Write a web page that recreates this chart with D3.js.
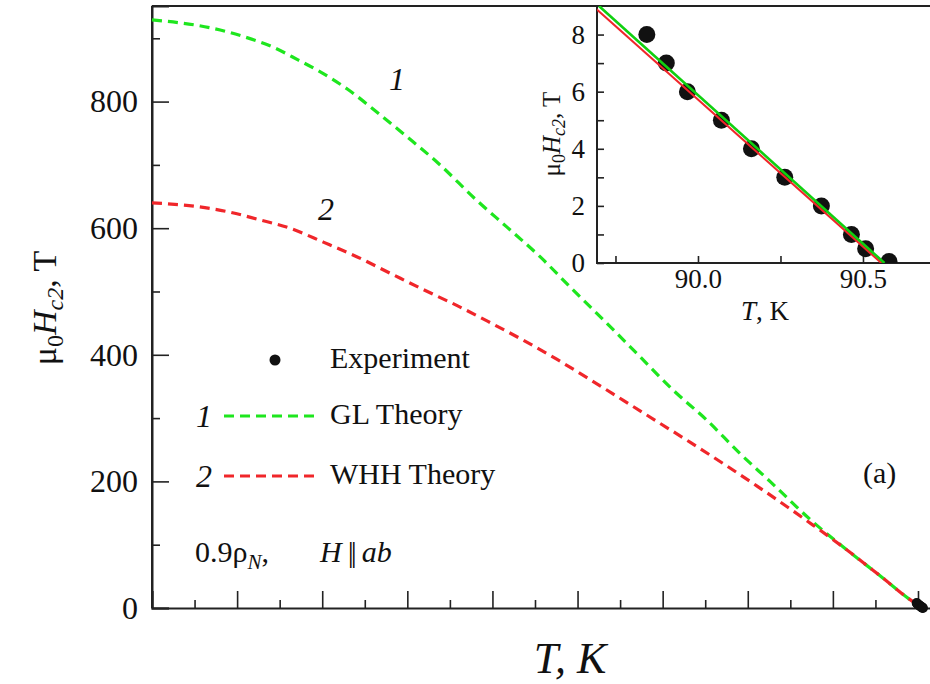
<!DOCTYPE html>
<html><head><meta charset="utf-8">
<script src="https://cdn.jsdelivr.net/npm/d3@7"></script>
<style>
html,body{margin:0;padding:0;background:#fff;}
svg{display:block;}
svg text, svg tspan{font-family:"Liberation Serif","Times New Roman",serif !important;}
</style></head>
<body>
<svg id="chart" width="930" height="684"></svg>
<script>
// ---------- data ----------
// Main panel: GL theory curve (1)
const glT = [0, 5.05, 8.93, 10.93, 14.06, 17.15, 19.5, 23.03, 26.55, 29.73, 33.6, 38.15, 41.68, 45.59, 49.5, 53.43, 57.34, 61.25, 65.17, 69.09, 72.61, 77.66, 81.62, 85.54, 89.41, 90.6];
const glH = [929, 921, 910, 902, 887, 866, 849, 819, 782, 747, 703, 644, 602, 555, 502, 450, 397, 344, 297, 244, 200, 136, 92, 51, 10, 0];
// Main panel: WHH theory curve (2)
const whhT = [0, 5.4, 8.93, 12.45, 16.21, 20.13, 24.05, 27.96, 31.88, 35.8, 39.71, 43.63, 47.55, 51.46, 55.38, 59.3, 63.21, 67.13, 71.05, 77.66, 81.62, 85.54, 89.41, 90.6];
const whhH = [640, 634, 626, 614, 600, 578, 555, 529, 503, 478, 451, 423, 393, 361, 328, 295, 262, 228, 193, 131, 92, 51, 10, 0];
// Experiment (inset and main)
const expT = [89.845, 89.904, 89.968, 90.071, 90.162, 90.263, 90.374, 90.465, 90.508, 90.579];
const expH = [8.0, 7.0, 6.0, 5.0, 4.0, 3.0, 2.0, 1.0, 0.5, 0.05];
// Inset straight fits
const insGLT = [89.70, 90.565];
const insGLH = [9.0, 0];
const insWHHT = [89.60, 90.556];
const insWHHH = [9.84, 0];
// ticks
const mainYTicks = [0, 200, 400, 600, 800];
const mainYMinor = [100, 300, 500, 700, 900];
const mainXMajor = [0, 10, 20, 30, 40, 50, 60, 70, 80, 90];
const mainXMinor = [5, 15, 25, 35, 45, 55, 65, 75, 85, 95];
const insYTicks = [0, 2, 4, 6, 8];
const insYMinor = [1, 3, 5, 7];
const insXTicks = [90.0, 90.5];
const insXMinor = [89.75, 90.25];
const legendLabels = ["Experiment", "GL Theory", "WHH Theory"];

// ---------- drawing ----------
const FONT = "Liberation Serif";
const svg = d3.select("#chart").attr("font-family", FONT);
const green = "#1ee61e", red = "#f0262a";

const x = d3.scaleLinear().domain([0, 95]).range([152, 152 + 95 * 8.511]);
const y = d3.scaleLinear().domain([0, 951]).range([608, 6]);

const gMain = svg.append("g");
gMain.append("line").attr("x1", 152).attr("x2", 152).attr("y1", y(951)).attr("y2", y(0)).attr("stroke", "#222").attr("stroke-width", 2);
gMain.append("line").attr("x1", 152).attr("x2", 960).attr("y1", y(951)).attr("y2", y(951)).attr("stroke", "#222").attr("stroke-width", 2);

gMain.append("g").attr("transform", `translate(0,${y(0)})`)
  .call(d3.axisBottom(x).tickValues(mainXMajor).tickSize(-17).tickFormat(""));
gMain.append("g").attr("transform", `translate(0,${y(0)})`)
  .call(d3.axisBottom(x).tickValues(mainXMinor).tickSize(-8).tickFormat(""))
  .select(".domain").remove();
const yAx = gMain.append("g").attr("transform", `translate(152,0)`)
  .call(d3.axisLeft(y).tickValues(mainYTicks).tickSize(-17).tickPadding(14));
gMain.append("g").attr("transform", `translate(152,0)`)
  .call(d3.axisLeft(y).tickValues(mainYMinor).tickSize(-8).tickFormat(""))
  .select(".domain").remove();
gMain.selectAll(".domain").attr("stroke", "#222").attr("stroke-width", 2);
gMain.selectAll(".tick line").attr("stroke", "#222").attr("stroke-width", 1.6);
yAx.selectAll("text").attr("font-size", 32).attr("font-family", FONT).attr("fill", "#111");

const lineMain = d3.line().x(d => x(d[0])).y(d => y(d[1])).curve(d3.curveMonotoneX);
gMain.append("path").datum(glT.map((t, i) => [t, glH[i]]))
  .attr("d", lineMain).attr("fill", "none").attr("stroke", green).attr("stroke-width", 3.2).attr("stroke-dasharray", "10,6");
gMain.append("path").datum(whhT.map((t, i) => [t, whhH[i]]))
  .attr("d", lineMain).attr("fill", "none").attr("stroke", red).attr("stroke-width", 3.2).attr("stroke-dasharray", "10,6");
gMain.selectAll("circle.mexp").data(expT.map((t, i) => [t, expH[i]])).enter().append("circle")
  .attr("cx", d => x(d[0])).attr("cy", d => y(d[1])).attr("r", 5).attr("fill", "#111");

gMain.append("text").attr("x", 389).attr("y", 90).attr("font-size", 32).attr("font-style", "italic").attr("fill", "#111").text("1");
gMain.append("text").attr("x", 318).attr("y", 220).attr("font-size", 32).attr("font-style", "italic").attr("fill", "#111").text("2");

const yt = svg.append("text").attr("transform", "translate(56,308) rotate(-90)").attr("text-anchor", "middle")
  .attr("font-size", 34).attr("fill", "#111");
yt.append("tspan").text("μ");
yt.append("tspan").attr("dy", 7).attr("font-size", 24).text("0");
yt.append("tspan").attr("dy", -7).attr("font-style", "italic").text("H");
yt.append("tspan").attr("dy", 7).attr("font-size", 24).attr("font-style", "italic").text("c2");
yt.append("tspan").attr("dy", -7).text(", T");

svg.append("text").attr("x", 570).attr("y", 673).attr("text-anchor", "middle").attr("font-size", 44)
  .attr("font-style", "italic").attr("fill", "#111").text("T, K");

const lg = svg.append("g");
lg.append("circle").attr("cx", 275).attr("cy", 360).attr("r", 5.5).attr("fill", "#111");
lg.append("text").attr("x", 330).attr("y", 368).attr("font-size", 30).attr("fill", "#111").text(legendLabels[0]);
lg.append("text").attr("x", 196).attr("y", 427).attr("font-size", 32).attr("font-style", "italic").attr("fill", "#111").text("1");
lg.append("line").attr("x1", 224).attr("x2", 318).attr("y1", 416).attr("y2", 416).attr("stroke", green).attr("stroke-width", 3.2).attr("stroke-dasharray", "10,6");
lg.append("text").attr("x", 330).attr("y", 424).attr("font-size", 30).attr("fill", "#111").text(legendLabels[1]);
lg.append("text").attr("x", 196).attr("y", 487).attr("font-size", 32).attr("font-style", "italic").attr("fill", "#111").text("2");
lg.append("line").attr("x1", 224).attr("x2", 318).attr("y1", 476).attr("y2", 476).attr("stroke", red).attr("stroke-width", 3.2).attr("stroke-dasharray", "10,6");
lg.append("text").attr("x", 330).attr("y", 484).attr("font-size", 30).attr("fill", "#111").text(legendLabels[2]);

const ct = svg.append("text").attr("x", 195).attr("y", 562).attr("font-size", 30).attr("fill", "#111");
ct.append("tspan").text("0.9ρ");
ct.append("tspan").attr("dy", 7).attr("font-size", 21).attr("font-style", "italic").text("N");
ct.append("tspan").attr("dy", -7).text(",");
ct.append("tspan").attr("x", 320).attr("font-style", "italic").text("H");
ct.append("tspan").attr("dx", 6).attr("letter-spacing", -3).text("||");
ct.append("tspan").attr("dx", 8).attr("font-style", "italic").text("ab");

svg.append("text").attr("x", 863).attr("y", 483).attr("font-size", 30).attr("fill", "#111").text("(a)");

// ---------- inset ----------
const xi = d3.scaleLinear().domain([89.694, 89.694 + 363 / 330]).range([597, 960]);
const yi = d3.scaleLinear().domain([0, 9]).range([263, 6]);
const gi = svg.append("g");
gi.append("rect").attr("x", 597).attr("y", 6).attr("width", 363).attr("height", 257).attr("fill", "#fff")
  .attr("stroke", "#222").attr("stroke-width", 2);
gi.append("g").attr("transform", `translate(0,263)`)
  .call(d3.axisBottom(xi).tickValues(insXTicks).tickSize(-7).tickPadding(6).tickFormat(d3.format(".1f")))
  .call(g => g.select(".domain").remove());
gi.append("g").attr("transform", `translate(0,263)`)
  .call(d3.axisBottom(xi).tickValues(insXMinor).tickSize(-7).tickFormat(""))
  .call(g => g.select(".domain").remove());
gi.append("g").attr("transform", `translate(597,0)`)
  .call(d3.axisLeft(yi).tickValues(insYTicks).tickSize(-7).tickPadding(12))
  .call(g => g.select(".domain").remove());
gi.append("g").attr("transform", `translate(597,0)`)
  .call(d3.axisLeft(yi).tickValues(insYMinor).tickSize(-7).tickFormat(""))
  .call(g => g.select(".domain").remove());
gi.selectAll(".tick line").attr("stroke", "#222").attr("stroke-width", 1.6);
gi.selectAll(".tick text").attr("font-size", 27).attr("font-family", FONT).attr("fill", "#111");

const clip = svg.append("clipPath").attr("id", "insclip");
clip.append("rect").attr("x", 597).attr("y", 6).attr("width", 363).attr("height", 257);
const gd = gi.append("g").attr("clip-path", "url(#insclip)");
const lineIns = d3.line().x(d => xi(d[0])).y(d => yi(d[1]));
gd.selectAll("circle").data(expT.map((t, i) => [t, expH[i]])).enter().append("circle")
  .attr("cx", d => xi(d[0])).attr("cy", d => yi(d[1])).attr("r", 8.5).attr("fill", "#111");
gd.append("path").datum(insWHHT.map((t, i) => [t, insWHHH[i]])).attr("d", lineIns)
  .attr("fill", "none").attr("stroke", red).attr("stroke-width", 2.2);
gd.append("path").datum(insGLT.map((t, i) => [t, insGLH[i]])).attr("d", lineIns)
  .attr("fill", "none").attr("stroke", "#10d010").attr("stroke-width", 2.6);

const iyt = svg.append("text").attr("transform", "translate(560,134) rotate(-90)").attr("text-anchor", "middle")
  .attr("font-size", 25).attr("fill", "#111");
iyt.append("tspan").text("μ");
iyt.append("tspan").attr("dy", 5).attr("font-size", 18).text("0");
iyt.append("tspan").attr("dy", -5).attr("font-style", "italic").text("H");
iyt.append("tspan").attr("dy", 5).attr("font-size", 18).attr("font-style", "italic").text("c2");
iyt.append("tspan").attr("dy", -5).text(", T");

const ixt = svg.append("text").attr("x", 765).attr("y", 320).attr("text-anchor", "middle").attr("font-size", 27).attr("fill", "#111");
ixt.append("tspan").attr("font-style", "italic").text("T");
ixt.append("tspan").text(", K");
</script>
</body></html>
